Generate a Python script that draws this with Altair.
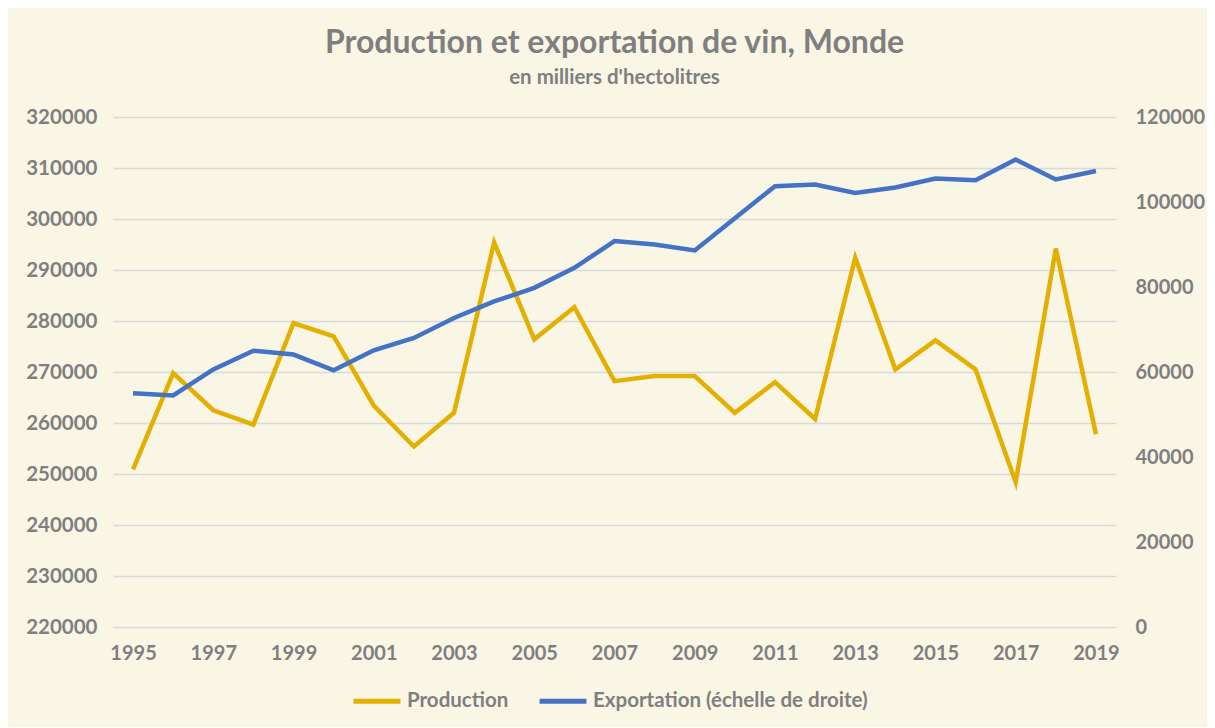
import altair as alt
import pandas as pd

annees = [1995, 1996, 1997, 1998, 1999, 2000, 2001, 2002, 2003, 2004, 2005, 2006,
          2007, 2008, 2009, 2010, 2011, 2012, 2013, 2014, 2015, 2016, 2017, 2018, 2019]
production = [250900, 269800, 262500, 259700, 279600, 277000, 263400, 255400, 262000,
              295400, 276400, 282700, 268200, 269200, 269200, 262000, 268000, 260800,
              292400, 270500, 276200, 270500, 248400, 294200, 257800]
exportation = [55000, 54500, 60600, 65000, 64100, 60400, 65100, 68000, 72700, 76600,
               79800, 84500, 90800, 90000, 88600, 96200, 103700, 104100, 102100, 103400,
               105500, 105100, 110000, 105300, 107300]
series = ["Production", "Exportation (échelle de droite)"]
couleurs = ["#E3AF00", "#4472C4"]
ticks_gauche = [220000, 230000, 240000, 250000, 260000, 270000, 280000, 290000, 300000, 310000, 320000]
ticks_droite = [0, 20000, 40000, 60000, 80000, 100000, 120000]
annees_labels = [1995, 1997, 1999, 2001, 2003, 2005, 2007, 2009, 2011, 2013, 2015, 2017, 2019]

df = pd.DataFrame({
    "annee": annees * 2,
    "serie": [series[0]] * len(annees) + [series[1]] * len(annees),
    "valeur": production + exportation,
})

GRIS = "#7F7F7F"
FONT = "Lato"

x = alt.X("annee:O", title=None,
          scale=alt.Scale(type="point", padding=0.5),
          axis=alt.Axis(values=annees_labels, labelAngle=0, ticks=False, domain=False,
                        grid=False, labelPadding=16, labelFontSize=20, labelFontWeight="bold",
                        labelColor=GRIS, labelFont=FONT))

color = alt.Color("serie:N", title=None,
                  scale=alt.Scale(domain=series, range=couleurs),
                  sort=series,
                  legend=alt.Legend(orient="none", direction="horizontal", legendX=238, legendY=558,
                                    symbolType="stroke", symbolStrokeWidth=5, symbolSize=2200,
                                    labelFontSize=20.5, labelFontWeight="bold", labelColor=GRIS,
                                    labelFont=FONT, columnPadding=20, labelOffset=4, labelLimit=500))

base = alt.Chart(df)

prod = base.transform_filter(alt.datum.serie == series[0]).mark_line(strokeWidth=4.5).encode(
    x=x,
    y=alt.Y("valeur:Q", title=None,
            scale=alt.Scale(domain=[220000, 320000], nice=False, zero=False),
            axis=alt.Axis(values=ticks_gauche, orient="left", ticks=False, domain=False,
                          grid=True, gridColor="#D9D9D9", gridWidth=1.5,
                          labelPadding=16, labelFontSize=20.5, labelFontWeight="bold",
                          labelColor=GRIS, labelFont=FONT, format="d")),
    color=color,
)

expo = base.transform_filter(alt.datum.serie == series[1]).mark_line(strokeWidth=4.5).encode(
    x=x,
    y=alt.Y("valeur:Q", title=None,
            scale=alt.Scale(domain=[0, 120000], nice=False),
            axis=alt.Axis(values=ticks_droite, orient="right", ticks=False, domain=False,
                          grid=False, labelPadding=19, labelFontSize=20, labelFontWeight="bold",
                          labelColor=GRIS, labelFont=FONT, format="d")),
    color=color,
)

chart = alt.layer(prod, expo).resolve_scale(y="independent").properties(
    width=1003,
    height=510,
    title=alt.TitleParams(
        text="Production et exportation de vin, Monde",
        subtitle="en milliers d'hectolitres",
        anchor="middle", font=FONT, fontSize=32, fontWeight="bold", color=GRIS,
        subtitleFont=FONT, subtitleFontSize=20.5, subtitleFontWeight="bold", subtitleColor=GRIS,
        subtitlePadding=8, offset=18,
    ),
    autosize=alt.AutoSizeParams(type="none"),
    padding={"left": 105, "top": 109, "right": 91, "bottom": 100},
    background="#F9F6E6",
).configure_view(stroke=None)

chart.save("out.html", embed_options={"renderer": "svg", "actions": False})
